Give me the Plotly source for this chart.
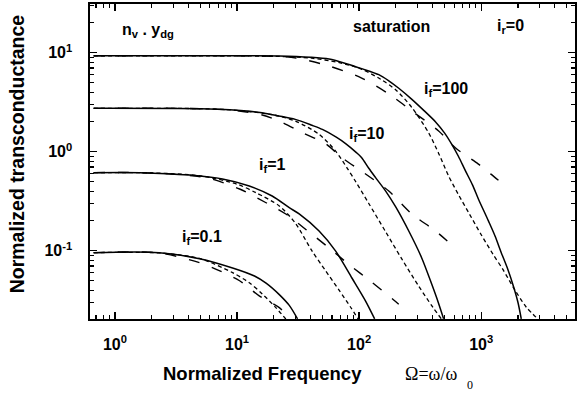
import plotly.graph_objects as go

# ---------------- data ----------------
# i_f = 100
if100_solid_x = [0.67, 10, 22, 40, 56.7, 80, 105, 145, 175, 210, 269, 340, 423, 500, 571, 650, 743, 850, 948, 1145, 1300, 1462, 1650, 1832, 2000, 2128]
if100_solid_y = [9.3, 9.3, 9.27, 9.0, 8.63, 7.7, 6.9, 6.0, 5.2, 4.4, 3.4, 2.6, 2.0, 1.55, 1.2, 0.9, 0.64, 0.46, 0.333, 0.2, 0.14, 0.095, 0.065, 0.044, 0.03, 0.0205]
if100_dot_x = [0.67, 20, 41, 70, 105, 150, 200, 270, 371, 450, 540, 650, 800, 1000, 1250, 1500, 1890, 2333, 2926]
if100_dot_y = [9.3, 9.2, 8.8, 7.9, 6.8, 5.4, 4.2, 2.8, 1.55, 0.95, 0.57, 0.37, 0.235, 0.145, 0.092, 0.065, 0.04, 0.027, 0.0203]
if100_long_x = [0.67, 20, 30.5, 56.7, 105, 175, 270, 448, 617, 948, 1200, 1575]
if100_long_y = [9.3, 9.2, 8.84, 7.34, 5.55, 3.83, 2.58, 1.62, 1.09, 0.75, 0.594, 0.45]

# i_f = 10
if10_solid_x = [0.67, 5, 8.7, 16, 22, 30, 41, 50, 65, 78, 95, 105, 120, 136, 165, 200, 255, 325, 393, 445, 492]
if10_solid_y = [2.74, 2.72, 2.66, 2.48, 2.3, 2.12, 1.85, 1.68, 1.4, 1.2, 0.98, 0.87, 0.68, 0.55, 0.40, 0.275, 0.158, 0.085, 0.046, 0.03, 0.0205]
if10_dot_x = [0.67, 5, 10, 20, 30, 47, 64, 80, 93.6, 120, 165, 223, 307, 400, 474]
if10_dot_y = [2.74, 2.72, 2.62, 2.35, 2.04, 1.5, 1.02, 0.68, 0.5, 0.3, 0.155, 0.083, 0.044, 0.027, 0.0203]
if10_long_x = [0.67, 5, 10, 16.1, 22.2, 34.2, 53.3, 72.4, 113, 175, 270, 423, 616]
if10_long_y = [2.74, 2.72, 2.6, 2.35, 2.04, 1.56, 1.2, 0.87, 0.596, 0.401, 0.235, 0.158, 0.106]

# i_f = 1
if1_solid_x = [0.67, 1.6, 4.09, 7.6, 12.6, 19.4, 26.8, 32.3, 47, 64.3, 87.3, 113, 134]
if1_solid_y = [0.614, 0.614, 0.58, 0.53, 0.45, 0.357, 0.272, 0.235, 0.158, 0.099, 0.053, 0.031, 0.0205]
if1_dot_x = [0.67, 2, 5, 10, 14.3, 22.2, 30, 41, 53, 68.5, 85, 98]
if1_dot_y = [0.614, 0.61, 0.57, 0.47, 0.385, 0.283, 0.19, 0.1, 0.063, 0.04, 0.027, 0.0205]
if1_long_x = [0.67, 2, 5.6, 10.5, 17.3, 25.1, 36.6, 55, 83.6, 125.6, 192, 211]
if1_long_y = [0.614, 0.61, 0.546, 0.42, 0.305, 0.235, 0.164, 0.11, 0.0717, 0.0486, 0.0318, 0.0288]

# i_f = 0.1
if01_solid_x = [0.67, 2.3, 4.93, 9.2, 13.9, 17.3, 22.2, 26.8, 31.3]
if01_solid_y = [0.0955, 0.0955, 0.083, 0.0669, 0.0555, 0.047, 0.036, 0.028, 0.0205]
if01_dot_x = [0.67, 2.3, 5, 9.2, 12.6, 16.1, 20.8, 25.1]
if01_dot_y = [0.0955, 0.095, 0.083, 0.06, 0.0475, 0.0366, 0.0266, 0.0204]
if01_long_x = [0.67, 2.3, 4.93, 6.76, 10.5, 15.2, 22.2, 26.8]
if01_long_y = [0.0955, 0.095, 0.0757, 0.0649, 0.0497, 0.035, 0.0266, 0.021]

x_tick_vals = [1, 10, 100, 1000]
x_tick_text = ["10<sup>0</sup>", "10<sup>1</sup>", "10<sup>2</sup>", "10<sup>3</sup>"]
y_tick_vals = [0.1, 1, 10]
y_tick_text = ["10<sup>-1</sup>", "10<sup>0</sup>", "10<sup>1</sup>"]

curve_labels = ["i<sub>f</sub>=100", "i<sub>f</sub>=10", "i<sub>f</sub>=1", "i<sub>f</sub>=0.1"]

# ---------------- figure ----------------
W, H = 578, 396
L, R, T, B = 90, 1, 4, 77
PW, PH = W - L - R, H - T - B

def px(xp):
    return (xp - L) / PW

def py(yp):
    return (H - B - yp) / PH

fig = go.Figure()

groups = [
    (if100_solid_x, if100_solid_y, if100_dot_x, if100_dot_y, if100_long_x, if100_long_y),
    (if10_solid_x, if10_solid_y, if10_dot_x, if10_dot_y, if10_long_x, if10_long_y),
    (if1_solid_x, if1_solid_y, if1_dot_x, if1_dot_y, if1_long_x, if1_long_y),
    (if01_solid_x, if01_solid_y, if01_dot_x, if01_dot_y, if01_long_x, if01_long_y),
]
for sx, sy, dx, dy, lx, ly in groups:
    fig.add_trace(go.Scatter(x=sx, y=sy, mode="lines", line=dict(color="black", width=1.5, shape="spline", smoothing=0.8), showlegend=False, hoverinfo="skip"))
    fig.add_trace(go.Scatter(x=dx, y=dy, mode="lines", line=dict(color="black", width=1.3, dash="4px,3px", shape="spline", smoothing=0.8), showlegend=False, hoverinfo="skip"))
    fig.add_trace(go.Scatter(x=lx, y=ly, mode="lines", line=dict(color="black", width=1.4, dash="11px,13px", shape="spline", smoothing=0.8), showlegend=False, hoverinfo="skip"))

minor_x = [m * 10 ** e for e in range(-1, 4) for m in range(2, 10)]
minor_y = [m * 10 ** e for e in range(-2, 2) for m in range(2, 10)]

axis_common = dict(
    type="log", showgrid=False, zeroline=False, showline=True, linecolor="black", linewidth=1.6,
    mirror="allticks", ticks="inside", ticklen=7, tickwidth=1.3, tickcolor="black",
    tickfont=dict(family="Liberation Sans, Arial, sans-serif", size=16, color="black", weight="bold"),
)
fig.update_xaxes(**axis_common, range=[-0.2039, 3.768], tickmode="array", tickvals=x_tick_vals, ticktext=x_tick_text,
                 minor=dict(tickmode="array", tickvals=minor_x, ticks="inside", ticklen=4, tickwidth=1.1, tickcolor="black"),
                 ticklabelstandoff=10)
fig.update_yaxes(**axis_common, range=[-1.69, 1.492], tickmode="array", tickvals=y_tick_vals, ticktext=y_tick_text,
                 minor=dict(tickmode="array", tickvals=minor_y, ticks="inside", ticklen=4, tickwidth=1.1, tickcolor="black"),
                 ticklabelstandoff=13)

bold = dict(family="Liberation Sans, Arial, sans-serif", size=16, color="black", weight="bold")
anns = [
    ("n<sub>v</sub> . y<sub>dg</sub>", 120, 30),
    ("saturation", 352, 27),
    ("i<sub>r</sub>=0", 497, 27),
    (curve_labels[0], 423, 89),
    (curve_labels[1], 348, 134),
    (curve_labels[2], 258, 166),
    (curve_labels[3], 180, 237),
]
for text, xp, yp in anns:
    fig.add_annotation(text=text, x=px(xp), y=py(yp), xref="paper", yref="paper", xanchor="left", yanchor="middle",
                       showarrow=False, font=bold)

fig.add_annotation(text="Normalized Frequency", x=px(263), y=py(373), xref="paper", yref="paper",
                   xanchor="center", yanchor="middle", showarrow=False,
                   font=dict(family="Liberation Sans, Arial, sans-serif", size=18.5, color="black", weight="bold"))
fig.add_annotation(text="Ω=ω/ω", x=px(404), y=py(374), xref="paper", yref="paper",
                   xanchor="left", yanchor="middle", showarrow=False,
                   font=dict(family="Liberation Serif, Times New Roman, serif", size=18, color="black"))
fig.add_annotation(text="0", x=px(472), y=py(385), xref="paper", yref="paper",
                   xanchor="center", yanchor="middle", showarrow=False,
                   font=dict(family="Liberation Serif, Times New Roman, serif", size=12, color="black"))
fig.add_annotation(text="Normalized transconductance", x=px(17), y=py(154), xref="paper", yref="paper",
                   xanchor="center", yanchor="middle", textangle=-90, showarrow=False,
                   font=dict(family="Liberation Sans, Arial, sans-serif", size=19.5, color="black", weight="bold"))

fig.update_layout(width=W, height=H, margin=dict(l=L, r=R, t=T, b=B), paper_bgcolor="white", plot_bgcolor="white",
                  showlegend=False, hovermode=False, dragmode=False)

fig.write_html("out.html", config={"displayModeBar": False, "staticPlot": True},
               post_script="document.body.style.margin='0px';document.body.style.padding='0px';")
